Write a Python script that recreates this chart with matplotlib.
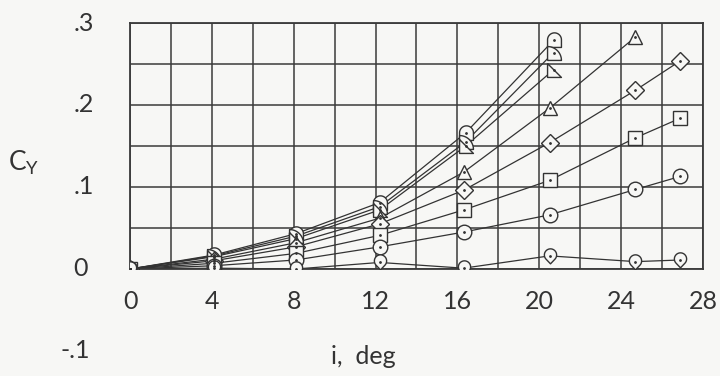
import numpy as np
import matplotlib.pyplot as plt
from matplotlib.path import Path

# incidence angle i (deg) and C_Y
x_top = [0, 4.1, 8.1, 12.2, 16.4, 20.7]
cy_arch = [0.0, 0.017, 0.043, 0.081, 0.166, 0.279]
cy_quarter = [0.0, 0.016, 0.040, 0.076, 0.155, 0.264]
cy_flag = [0.0, 0.015, 0.037, 0.072, 0.150, 0.243]

x_tri = [0, 4.1, 8.1, 12.2, 16.3, 20.5, 24.7]
cy_tri = [0.0, 0.012, 0.032, 0.062, 0.118, 0.196, 0.283]

x_rest = [0, 4.1, 8.1, 12.2, 16.3, 20.5, 24.7, 26.9]
cy_diamond = [0.0, 0.010, 0.027, 0.055, 0.096, 0.154, 0.218, 0.254]
cy_square = [0.0, 0.007, 0.019, 0.041, 0.072, 0.108, 0.160, 0.184]
cy_circle = [0.0, 0.004, 0.011, 0.027, 0.045, 0.066, 0.097, 0.113]
cy_drop = [0.0, 0.001, 0.0, 0.008, 0.001, 0.016, 0.009, 0.011]

x_ticks = [0, 4, 8, 12, 16, 20, 24, 28]
y_ticks = [0.3, 0.2, 0.1, 0.0, -0.1]
y_tick_labels = ['.3', '.2', '.1', '0', '-.1']

BG = '#f7f7f5'
INK = '#333333'


# odd "flagged" symbols of the old report
def arch_marker():
    t = np.linspace(0, np.pi, 25)
    top = np.c_[np.cos(t), 0.1 + np.sin(t)]
    verts = np.vstack([top, [[-1, -1], [1, -1], [1, 0.1]]])
    return Path(verts)


def quarter_marker():
    t = np.linspace(np.pi / 2, 0, 25)
    arc = np.c_[-1 + 2 * np.cos(t), -1 + 2 * np.sin(t)]
    verts = np.vstack([[[-1, -1]], arc, [[-1, -1]]])
    return Path(verts)


def flag_marker():
    return Path([[-1, 1], [1, -1], [-1, -1], [-1, 1]])


def drop_marker():
    t = np.linspace(-np.pi / 4, 5 * np.pi / 4, 40)
    arc = np.c_[np.cos(t), 0.25 + np.sin(t)]
    verts = np.vstack([arc, [[0, -1.2]], arc[:1]])
    return Path(verts)


plt.rcParams['font.family'] = ['Lato', 'DejaVu Sans']
fig = plt.figure(figsize=(7.2, 3.76), dpi=100, facecolor=BG)
ax = fig.add_axes([130 / 720, 1 - 269 / 376, 573 / 720, 246 / 376])
ax.set_facecolor(BG)

series = [
    (x_top, cy_arch, arch_marker(), 11),
    (x_top, cy_quarter, quarter_marker(), 10),
    (x_top, cy_flag, flag_marker(), 10),
    (x_tri, cy_tri, '^', 10.5),
    (x_rest, cy_diamond, 'D', 9.5),
    (x_rest, cy_square, 's', 9.5),
    (x_rest, cy_circle, 'o', 10.5),
    (x_rest, cy_drop, drop_marker(), 11),
]
for xs, ys, mk, ms in series:
    ax.plot(xs, ys, color=INK, lw=0.9, zorder=2)
    ax.plot(xs, ys, ls='none', marker=mk, ms=ms, mfc=BG, mec=INK,
            mew=1.0, zorder=3)
    ax.plot(xs, ys, ls='none', marker='.', ms=2, color=INK, zorder=4)

ax.set_xlim(0, 28)
ax.set_ylim(0, 0.3)
ax.set_xticks(np.arange(0, 29, 2))
ax.set_yticks(np.arange(0, 0.31, 0.05))
ax.grid(True, color='#3a3a3a', lw=1.1)
ax.set_axisbelow(True)
for s in ax.spines.values():
    s.set_color('#3a3a3a')
    s.set_linewidth(1.3)
ax.tick_params(length=0, labelbottom=False, labelleft=False)

for v in x_ticks:
    ax.text(v, -0.04, str(v), ha='center', va='center', fontsize=18,
            color=INK, clip_on=False)
for v, lab in zip(y_ticks, y_tick_labels):
    xpos = -0.122 if lab.startswith('-') else -0.099
    ax.text(xpos, v, lab, transform=ax.get_yaxis_transform(), ha='left',
            va='center', fontsize=18, color=INK, clip_on=False)

ax.text(-0.185, 0.13, r'$\mathregular{C_Y}$', transform=ax.get_yaxis_transform(),
        ha='center', va='center', fontsize=19, color=INK, clip_on=False)
ax.text(11.4, -0.107, 'i,  deg', ha='center', va='center', fontsize=18,
        color=INK, clip_on=False)

fig.savefig('out.png', dpi=100, facecolor=BG)
